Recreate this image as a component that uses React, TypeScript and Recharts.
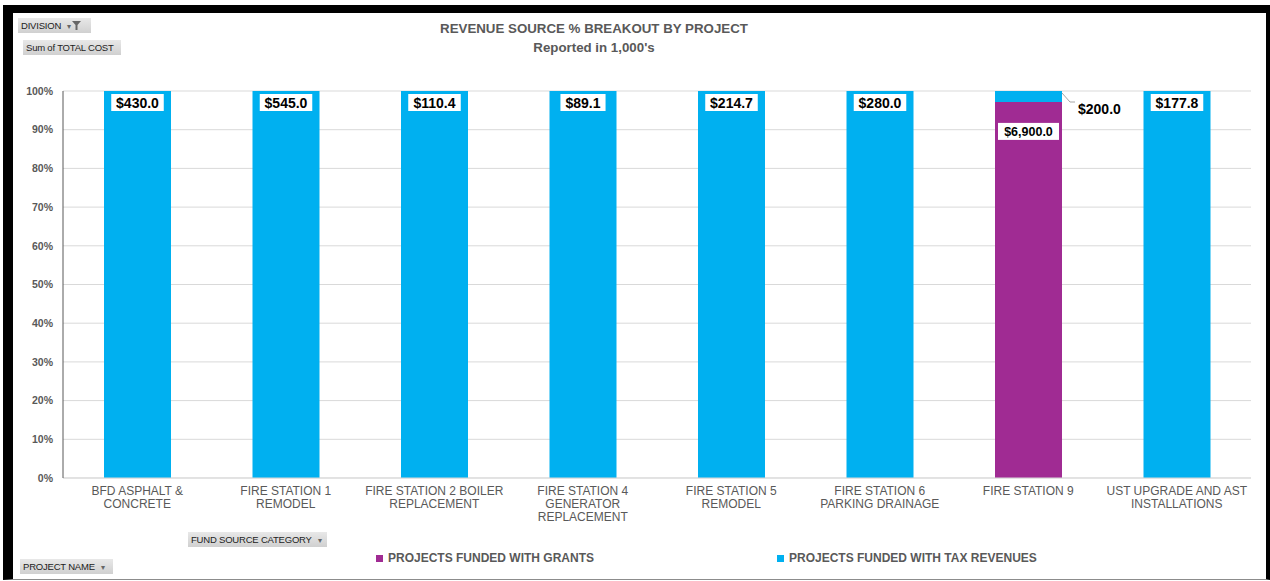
import React from 'react';
import { Bar, BarChart, CartesianGrid, Legend, XAxis, YAxis } from 'recharts';

// project names, line breaks as in the axis labels
const projects = [
  'BFD ASPHALT &\nCONCRETE',
  'FIRE STATION 1\nREMODEL',
  'FIRE STATION 2 BOILER\nREPLACEMENT',
  'FIRE STATION 4\nGENERATOR\nREPLACEMENT',
  'FIRE STATION 5\nREMODEL',
  'FIRE STATION 6\nPARKING DRAINAGE',
  'FIRE STATION 9',
  'UST UPGRADE AND AST\nINSTALLATIONS',
];
// in 1,000's
const grants = [0, 0, 0, 0, 0, 0, 6900, 0];
const taxRevenues = [430, 545, 110.4, 89.1, 214.7, 280, 200, 177.8];
const yTicks = [0, 0.1, 0.2, 0.3, 0.4, 0.5, 0.6, 0.7, 0.8, 0.9, 1];

const data = projects.map((name, i) => ({ name, grants: grants[i], tax: taxRevenues[i] }));

const FONT = '"Liberation Sans", Arial, sans-serif';
const GRAY = '#595959';
const TAX = '#00b0f0';
const GRANT = '#a02b93';

const money = (v: number) =>
  '$' + v.toLocaleString('en-US', { minimumFractionDigits: 1, maximumFractionDigits: 1 });

// raw (not expanded) value behind a label
function rawValue(props: any, key: 'grants' | 'tax', list: number[]) {
  if (props.payload && typeof props.payload[key] === 'number') return props.payload[key];
  const x = props.x + props.width / 2;
  // fall back to locating the bar by its position in the band
  const band = (1270 - 19 - 63) / projects.length;
  const i = Math.floor((x - 63) / band);
  return list[i] ?? 0;
}

function boxLabel(cx: number, top: number, text: string, size: number) {
  const w = text.length * size * 0.53 + 8;
  return (
    <g>
      <rect x={cx - w / 2} y={top} width={w} height={17} fill="#fff" />
      <text x={cx} y={top + 9} textAnchor="middle" dominantBaseline="central"
        fontFamily={FONT} fontWeight="bold" fontSize={size} fill="#000">{text}</text>
    </g>
  );
}

function TaxLabel(props: any) {
  const { x, y, width, height } = props;
  const v = rawValue(props, 'tax', taxRevenues);
  if (!v || !height) return null;
  if (height < 30) {
    const x0 = x + width;
    return (
      <g>
        <polyline points={`${x0},${y + 2} ${x0 + 8},${y + 11} ${x0 + 13},${y + 11}`}
          stroke="#a6a6a6" fill="none" />
        <text x={x0 + 16} y={y + 18} dominantBaseline="central" fontFamily={FONT}
          fontWeight="bold" fontSize={14} fill="#000">{money(v)}</text>
      </g>
    );
  }
  return boxLabel(x + width / 2, y + 3, money(v), 14);
}

function GrantLabel(props: any) {
  const { x, y, width, height } = props;
  const v = rawValue(props, 'grants', grants);
  if (!v || !height) return null;
  return boxLabel(x + width / 2, y + 21, money(v), 12.5);
}

function ProjectTick({ x, y, payload }: any) {
  const lines = String(payload.value).split('\n');
  return (
    <text x={x} y={y} textAnchor="middle" fill={GRAY} fontSize={12} fontFamily={FONT}>
      {lines.map((l, i) => (
        <tspan key={i} x={x} dy={i === 0 ? 9 : 13}>{l}</tspan>
      ))}
    </text>
  );
}

function LegendContent() {
  const items = [
    { label: 'PROJECTS FUNDED WITH GRANTS', color: GRANT, left: 376 },
    { label: 'PROJECTS FUNDED WITH TAX REVENUES', color: TAX, left: 777 },
  ];
  return (
    <div style={{ position: 'relative', height: 18 }}>
      {items.map((it) => (
        <div key={it.label} style={{ position: 'absolute', left: it.left, top: 0, display: 'flex',
          alignItems: 'center', fontFamily: FONT, fontWeight: 'bold', fontSize: 12, color: GRAY,
          whiteSpace: 'nowrap' }}>
          <span style={{ width: 7, height: 7, background: it.color, marginRight: 5 }} />
          {it.label}
        </div>
      ))}
    </div>
  );
}

function PivotButton({ text, left, top, width, funnel }: any) {
  return (
    <div style={{ position: 'absolute', left, top, width, height: 15, boxSizing: 'border-box',
      background: 'linear-gradient(#e8e8e8, #d0d0d0)', fontFamily: FONT, fontSize: 9.5,
      color: '#222', lineHeight: '15px', paddingLeft: 3, whiteSpace: 'nowrap',
      letterSpacing: -0.2 }}>
      {text}
      {funnel !== undefined && (
        <span style={{ color: '#666', marginLeft: 6, fontSize: 8 }}>{'\u25BE'}</span>
      )}
      {funnel && (
        <svg width={9} height={9} style={{ marginLeft: 1, verticalAlign: -1 }}>
          <polygon points="0,0 9,0 5.5,4 5.5,9 3.5,9 3.5,4" fill="#666" />
        </svg>
      )}
    </div>
  );
}

export default function App() {
  return (
    <div style={{ position: 'absolute', left: 0, top: 0, width: 1270, height: 581, background: '#fff' }}>
      <div style={{ position: 'absolute', left: 0, top: 0 }}>
        <BarChart width={1270} height={581} data={data} stackOffset="expand"
          margin={{ top: 91, right: 19, bottom: 43, left: 0 }}>
          <CartesianGrid vertical={false} stroke="#d9d9d9" />
          <XAxis dataKey="name" interval={0} height={60} tickLine={false}
            axisLine={{ stroke: '#d9d9d9' }} tick={<ProjectTick />} />
          <XAxis xAxisId="top" dataKey="name" orientation="top" height={0} tick={false}
            tickLine={false} axisLine={{ stroke: '#7f7f7f' }} />
          <YAxis domain={[0, 1]} ticks={yTicks} width={63} tickLine={false} tickSize={6}
            tickMargin={4} axisLine={{ stroke: GRAY }}
            tickFormatter={(v: number) => `${Math.round(v * 100)}%`}
            tick={{ fontSize: 10.5, fill: GRAY, fontWeight: 'bold', fontFamily: FONT }} />
          <YAxis yAxisId="right" orientation="right" domain={[0, 1]} width={0} tick={false}
            tickLine={false} axisLine={{ stroke: '#404040' }} />
          <Legend verticalAlign="middle" align="center" layout="horizontal"
            wrapperStyle={{ top: 551, left: 0, width: 1270 }} content={<LegendContent />} />
          <Bar dataKey="grants" name="PROJECTS FUNDED WITH GRANTS" stackId="a" fill={GRANT}
            barSize={67} isAnimationActive={false} label={<GrantLabel />} />
          <Bar dataKey="tax" name="PROJECTS FUNDED WITH TAX REVENUES" stackId="a" fill={TAX}
            barSize={67} isAnimationActive={false} label={<TaxLabel />} />
        </BarChart>
      </div>

      <div style={{ position: 'absolute', left: 394, top: 19, width: 400, textAlign: 'center',
        fontFamily: FONT, fontWeight: 'bold', fontSize: 13.3, lineHeight: '19px', color: GRAY }}>
        <div>REVENUE SOURCE % BREAKOUT BY PROJECT</div>
        <div>Reported in 1,000's</div>
      </div>

      <PivotButton text="DIVISION" left={18} top={18} width={73} funnel={true} />
      <PivotButton text="Sum of TOTAL COST" left={23} top={40} width={98} />
      <PivotButton text="FUND SOURCE CATEGORY" left={188} top={532} width={139} funnel={false} />
      <PivotButton text="PROJECT NAME" left={20} top={559} width={93} funnel={false} />

      <div style={{ position: 'absolute', left: 3, top: 5, width: 1267, height: 575,
        boxSizing: 'border-box', borderTop: '8px solid #000', borderLeft: '10px solid #000',
        borderRight: '4px solid #000', borderBottom: '1px solid #8c8c8c', pointerEvents: 'none' }} />
    </div>
  );
}
